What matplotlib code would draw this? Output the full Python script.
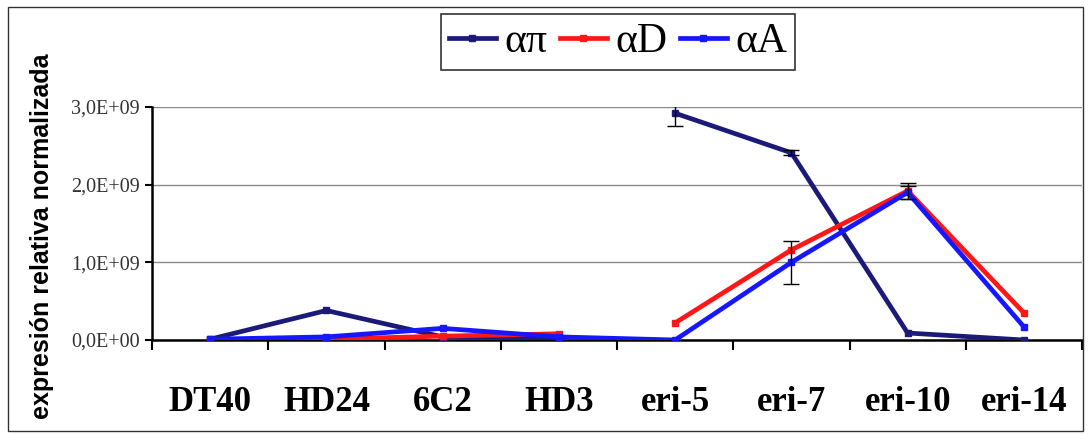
import numpy as np
import matplotlib
matplotlib.use("Agg")
from matplotlib import pyplot as plt
from matplotlib.patches import Rectangle
from matplotlib.ticker import FuncFormatter, FixedLocator

categories = ["DT40", "HD24", "6C2", "HD3", "eri-5", "eri-7", "eri-10", "eri-14"]

# values in units of 1E+09
alpha_pi = [0.01, 0.38, 0.04, 0.03, 2.92, 2.41, 0.09, 0.00]
alpha_pi_err = [0.0, 0.0, 0.0, 0.0, 0.17, 0.03, 0.0, 0.0]
alpha_d = [0.00, 0.01, 0.05, 0.08, 0.22, 1.16, 1.92, 0.35]
alpha_d_err = [0.0, 0.0, 0.0, 0.0, 0.0, 0.0, 0.1, 0.0]
alpha_a = [0.01, 0.04, 0.15, 0.04, 0.00, 1.00, 1.90, 0.17]
alpha_a_err = [0.0, 0.0, 0.0, 0.0, 0.0, 0.28, 0.08, 0.0]

navy = "#1c1a78"
red = "#ff1616"
blue = "#1616ff"

fig = plt.figure(figsize=(10.91, 4.34), dpi=100)
ax = fig.add_axes([152/1091, 1-340/434, (1082-152)/1091, (340-107)/434])

x = np.arange(len(categories)) + 0.5
scale = 1e9

def draw(vals, errs, color, split, z):
    v = np.array(vals) * scale
    e = np.array(errs) * scale
    parts = [(0, 4), (4, 8)] if split else [(0, 8)]
    for a, b in parts:
        ax.plot(x[a:b], v[a:b], color=color, lw=3.4, marker="s", ms=5, zorder=z)
    m = e > 0
    ax.errorbar(x[m], v[m], yerr=e[m], fmt="none", ecolor="black", elinewidth=1,
                capsize=6, capthick=1, zorder=z+1)

draw(alpha_pi, alpha_pi_err, navy, True, 3)
draw(alpha_d, alpha_d_err, red, True, 4)
draw(alpha_a, alpha_a_err, blue, False, 5)

ax.set_xlim(0, 8)
ax.set_ylim(0, 3e9)
ax.set_yticks([0, 1e9, 2e9, 3e9])
ax.yaxis.set_major_formatter(FuncFormatter(
    lambda v, p: "0,0E+00" if v == 0 else ("%.1f" % (v/1e9)).replace(".", ",") + "E+09"))
ax.grid(axis="y", color="#8a8a8a", lw=1)
ax.set_axisbelow(True)

ax.xaxis.set_major_locator(FixedLocator(np.arange(9)))
ax.xaxis.set_minor_locator(FixedLocator(x))
ax.set_xticklabels([])
ax.set_xticklabels(categories, minor=True, fontfamily="Liberation Serif",
                   fontweight="bold", fontsize=25)
ax.tick_params(axis="x", which="minor", length=0, pad=33)
ax.tick_params(axis="x", which="major", length=7, width=1.5, direction="out")
ax.tick_params(axis="y", length=5, width=1.5, direction="out", labelsize=14.5, pad=4)
for lab in ax.get_yticklabels():
    lab.set_fontfamily("Liberation Serif")
    lab.set_color("#333333")

for s in ["top", "right"]:
    ax.spines[s].set_visible(False)
ax.spines["left"].set_linewidth(1.8)
ax.spines["bottom"].set_linewidth(1.8)

fig.text(42/1091, 1-236/434, "expresión relativa normalizada", rotation=90,
         ha="center", va="center", fontsize=18, fontweight="bold", fontfamily="Liberation Sans")

handles = [plt.Line2D([], [], color=c, lw=3.4, marker="s", ms=5) for c in (navy, red, blue)]
leg = fig.legend(handles, ["απ", "αD", "αA"], loc="center", bbox_to_anchor=(618/1091, 1-42/434),
                 ncol=3, frameon=True, fancybox=False, handlelength=1.13, handletextpad=0.2,
                 columnspacing=0.3, borderpad=0.2, borderaxespad=0,
                 prop={"family": "Liberation Serif", "size": 30})
leg.get_frame().set_edgecolor("black")
leg.get_frame().set_linewidth(1.2)

fig.patches.append(Rectangle((8/1091, 3/434), (1083-8)/1091, (427-3)/434,
                             transform=fig.transFigure, fill=False, edgecolor="#333333", lw=1))

fig.savefig("out.png", dpi=100)
